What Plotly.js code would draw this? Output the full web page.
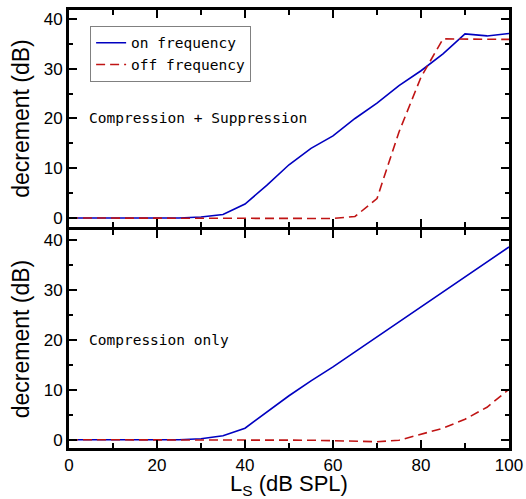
<!DOCTYPE html>
<html>
<head>
<meta charset="utf-8">
<script src="https://cdn.plot.ly/plotly-3.0.1.min.js"></script>
<style>html,body{margin:0;padding:0;background:#fff;}#chart{width:526px;height:499px;}</style>
</head>
<body>
<div id="chart"></div>
<script>
// Sound level of suppressor, Ls (dB SPL)
const levels = [0, 5, 10, 15, 20, 25, 30, 35, 40, 45, 50, 55, 60, 65, 70, 75, 80, 85, 90, 95, 100];

// Top panel: Compression + Suppression
const topOnFreq  = [0, 0, 0, 0, 0, 0, 0.2, 0.7, 2.8, 6.6, 10.7, 14.0, 16.5, 20.0, 23.1, 26.6, 29.6, 33.0, 37.0, 36.6, 37.1];
const topOffFreq = [0, 0, 0, 0, 0, 0, 0, 0, 0, 0, 0, -0.05, -0.1, 0.3, 3.9, 17.3, 28.3, 36.0, 36.0, 36.0, 35.9];

// Bottom panel: Compression only
const botOnFreq  = [0, 0, 0, 0, 0, 0, 0.2, 0.8, 2.3, 5.5, 8.8, 11.8, 14.6, 17.6, 20.6, 23.6, 26.7, 29.7, 32.6, 35.6, 38.6];
const botOffFreq = [0, 0, 0, 0, 0, 0, 0, 0, 0, 0, -0.05, -0.1, -0.2, -0.3, -0.4, -0.1, 1.1, 2.3, 4.1, 6.5, 10.1];

const xTickVals = [0, 20, 40, 60, 80, 100];
const yTickVals = [0, 10, 20, 30, 40];
const panelLabels = ["Compression + Suppression", "Compression only"];
const seriesNames = ["on frequency", "off frequency"];

const blue = "#0000c0";
const red = "#c01414";
const mono = "DejaVu Sans Mono, monospace";
const sans = "Liberation Sans, Arial, sans-serif";

const traces = [
  {x: levels, y: topOnFreq, name: seriesNames[0], mode: "lines", line: {color: blue, width: 1.6}, xaxis: "x2", yaxis: "y2"},
  {x: levels, y: topOffFreq, name: seriesNames[1], mode: "lines", line: {color: red, width: 1.6, dash: "9px,5px"}, xaxis: "x2", yaxis: "y2"},
  {x: levels, y: botOnFreq, name: seriesNames[0], mode: "lines", line: {color: blue, width: 1.6}, xaxis: "x", yaxis: "y", showlegend: false},
  {x: levels, y: botOffFreq, name: seriesNames[1], mode: "lines", line: {color: red, width: 1.6, dash: "9px,5px"}, xaxis: "x", yaxis: "y", showlegend: false}
];

const axisFrame = {
  ticks: "inside",
  ticklen: 8,
  tickwidth: 2,
  tickcolor: "#000",
  showline: true,
  linewidth: 3,
  linecolor: "#000",
  mirror: "ticks",
  showgrid: false,
  zeroline: false
};

const yAxisCommon = Object.assign({}, axisFrame, {
  tickvals: yTickVals,
  tickfont: {family: sans, size: 17, color: "#000"},
  minor: {dtick: 5, ticks: "inside", ticklen: 4, tickwidth: 2, tickcolor: "#000", showgrid: false},
  title: {text: "decrement (dB)", font: {family: sans, size: 23, color: "#000"}, standoff: 8}
});

const xRange = [0, 100];

const layout = {
  width: 526,
  height: 499,
  margin: {l: 69, r: 17, t: 10, b: 51},
  paper_bgcolor: "#fff",
  plot_bgcolor: "#fff",
  showlegend: true,
  legend: {
    x: 0.048, y: 0.964, xanchor: "left", yanchor: "top",
    bgcolor: "#fff", bordercolor: "#808080", borderwidth: 1,
    font: {family: mono, size: 14.5, color: "#000"},
    tracegroupgap: 0
  },
  xaxis: Object.assign({}, axisFrame, {
    range: xRange,
    anchor: "y",
    tickvals: xTickVals,
    tickfont: {family: sans, size: 17, color: "#000"},
    minor: {dtick: 10, ticks: "inside", ticklen: 5, tickwidth: 2, tickcolor: "#000", showgrid: false},
    title: {text: "L<sub>S</sub> (dB SPL)", font: {family: sans, size: 22, color: "#000"}, standoff: 4}
  }),
  xaxis2: Object.assign({}, axisFrame, {
    range: xRange,
    anchor: "y2",
    tickvals: xTickVals,
    showticklabels: false,
    minor: {dtick: 10, ticks: "inside", ticklen: 5, tickwidth: 2, tickcolor: "#000", showgrid: false}
  }),
  yaxis: Object.assign({}, yAxisCommon, {domain: [0, 0.4977], anchor: "x", range: [-1.66, 42.0]}),
  yaxis2: Object.assign({}, yAxisCommon, {domain: [0.5046, 1], anchor: "x2", range: [-1.81, 41.81]}),
  annotations: [
    {x: 4.0, y: 20, xref: "x2", yref: "y2", xanchor: "left", yanchor: "middle", showarrow: false,
     text: panelLabels[0], font: {family: mono, size: 14.5, color: "#000"}},
    {x: 4.0, y: 20, xref: "x", yref: "y", xanchor: "left", yanchor: "middle", showarrow: false,
     text: panelLabels[1], font: {family: mono, size: 14.5, color: "#000"}}
  ]
};

Plotly.newPlot("chart", traces, layout, {displayModeBar: false, staticPlot: true});
</script>
</body>
</html>
